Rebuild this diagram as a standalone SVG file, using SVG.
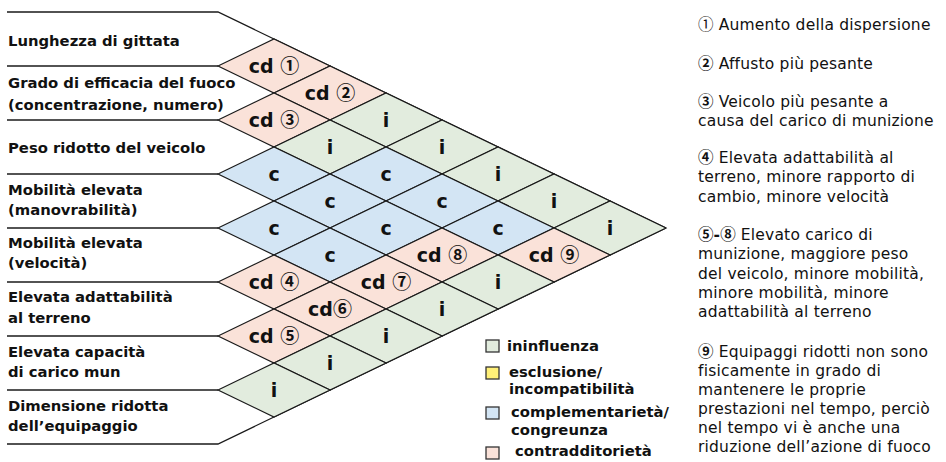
<svg xmlns="http://www.w3.org/2000/svg" xmlns:xlink="http://www.w3.org/1999/xlink" width="946" height="462" viewBox="0 0 946 462">
<style>
.lbl{font-family:"DejaVu Sans","Noto Sans CJK SC",sans-serif;font-weight:bold;font-size:14.8px;fill:#111}
.ct{font-family:"DejaVu Sans","Noto Sans CJK SC",sans-serif;font-weight:bold;font-size:19px;fill:#111;text-anchor:middle}
.note{font-family:"DejaVu Sans","Noto Sans CJK SC",sans-serif;font-size:15.5px;letter-spacing:0.2px;fill:#111}
.lg{font-family:"DejaVu Sans","Noto Sans CJK SC",sans-serif;font-weight:bold;font-size:14.8px;fill:#111}
.n{font-family:"Noto Sans CJK SC",sans-serif;letter-spacing:0}
.b{font-weight:bold}
.pk{fill:#fae2d9}
.gr{fill:#e2ecde}
.bl{fill:#d3e5f4}
.ye{fill:#fff078}
.ln{fill:none;stroke:#1a1a1a;stroke-width:1.3}
.sq{stroke:#333;stroke-width:1.3}
</style>
<defs>
<path id="d" d="M-56 0L0 -27L56 0L0 27Z" stroke="#1a1a1a" stroke-width="1.2" stroke-linejoin="miter"/>
</defs>
<g id="connectors">
<polyline class="ln" points="7,12 218,12 666,228"/>
<polyline class="ln" points="7,444 218,444 666,228"/>
<line class="ln" x1="7" y1="66" x2="218" y2="66"/>
<line class="ln" x1="7" y1="120" x2="218" y2="120"/>
<line class="ln" x1="7" y1="174" x2="218" y2="174"/>
<line class="ln" x1="7" y1="228" x2="218" y2="228"/>
<line class="ln" x1="7" y1="282" x2="218" y2="282"/>
<line class="ln" x1="7" y1="336" x2="218" y2="336"/>
<line class="ln" x1="7" y1="390" x2="218" y2="390"/>
</g>
<g id="labels">
<g id="l1"><text class="lbl" x="8" y="46">Lunghezza di gittata</text></g>
<g id="l2"><text class="lbl" x="8" y="88">Grado di efficacia del fuoco</text><text class="lbl" x="8" y="110">(concentrazione, numero)</text></g>
<g id="l3"><text class="lbl" x="8" y="153">Peso ridotto del veicolo</text></g>
<g id="l4"><text class="lbl" x="8" y="195">Mobilità elevata</text><text class="lbl" x="8" y="215">(manovrabilità)</text></g>
<g id="l5"><text class="lbl" x="8" y="248">Mobilità elevata</text><text class="lbl" x="8" y="268">(velocità)</text></g>
<g id="l6"><text class="lbl" x="8" y="302">Elevata adattabilità</text><text class="lbl" x="8" y="323">al terreno</text></g>
<g id="l7"><text class="lbl" x="8" y="357">Elevata capacità</text><text class="lbl" x="8" y="377">di carico mun</text></g>
<g id="l8"><text class="lbl" x="8" y="411">Dimensione ridotta</text><text class="lbl" x="8" y="431">dell’equipaggio</text></g>
</g>
<g id="cells">
<g id="c12" transform="translate(274,66)"><use xlink:href="#d" class="pk"/><text class="ct" y="7">cd <tspan class="n">①</tspan></text></g>
<g id="c13" transform="translate(330,93)"><use xlink:href="#d" class="pk"/><text class="ct" y="7">cd <tspan class="n">②</tspan></text></g>
<g id="c23" transform="translate(274,120)"><use xlink:href="#d" class="pk"/><text class="ct" y="7">cd <tspan class="n">③</tspan></text></g>
<g id="c14" transform="translate(386,120)"><use xlink:href="#d" class="gr"/><text class="ct" y="7">i</text></g>
<g id="c24" transform="translate(330,147)"><use xlink:href="#d" class="gr"/><text class="ct" y="7">i</text></g>
<g id="c15" transform="translate(442,147)"><use xlink:href="#d" class="gr"/><text class="ct" y="7">i</text></g>
<g id="c34" transform="translate(274,174)"><use xlink:href="#d" class="bl"/><text class="ct" y="7">c</text></g>
<g id="c25" transform="translate(386,174)"><use xlink:href="#d" class="bl"/><text class="ct" y="7">c</text></g>
<g id="c16" transform="translate(498,174)"><use xlink:href="#d" class="gr"/><text class="ct" y="7">i</text></g>
<g id="c35" transform="translate(330,201)"><use xlink:href="#d" class="bl"/><text class="ct" y="7">c</text></g>
<g id="c26" transform="translate(442,201)"><use xlink:href="#d" class="bl"/><text class="ct" y="7">c</text></g>
<g id="c17" transform="translate(554,201)"><use xlink:href="#d" class="gr"/><text class="ct" y="7">i</text></g>
<g id="c45" transform="translate(274,228)"><use xlink:href="#d" class="bl"/><text class="ct" y="7">c</text></g>
<g id="c36" transform="translate(386,228)"><use xlink:href="#d" class="bl"/><text class="ct" y="7">c</text></g>
<g id="c27" transform="translate(498,228)"><use xlink:href="#d" class="bl"/><text class="ct" y="7">c</text></g>
<g id="c18" transform="translate(610,228)"><use xlink:href="#d" class="gr"/><text class="ct" y="7">i</text></g>
<g id="c46" transform="translate(330,255)"><use xlink:href="#d" class="bl"/><text class="ct" y="7">c</text></g>
<g id="c37" transform="translate(442,255)"><use xlink:href="#d" class="pk"/><text class="ct" y="7">cd <tspan class="n">⑧</tspan></text></g>
<g id="c28" transform="translate(554,255)"><use xlink:href="#d" class="pk"/><text class="ct" y="7">cd <tspan class="n">⑨</tspan></text></g>
<g id="c56" transform="translate(274,282)"><use xlink:href="#d" class="pk"/><text class="ct" y="7">cd <tspan class="n">④</tspan></text></g>
<g id="c47" transform="translate(386,282)"><use xlink:href="#d" class="pk"/><text class="ct" y="7">cd <tspan class="n">⑦</tspan></text></g>
<g id="c38" transform="translate(498,282)"><use xlink:href="#d" class="gr"/><text class="ct" y="7">i</text></g>
<g id="c57" transform="translate(330,309)"><use xlink:href="#d" class="pk"/><text class="ct" y="7">cd<tspan class="n">⑥</tspan></text></g>
<g id="c48" transform="translate(442,309)"><use xlink:href="#d" class="gr"/><text class="ct" y="7">i</text></g>
<g id="c67" transform="translate(274,336)"><use xlink:href="#d" class="pk"/><text class="ct" y="7">cd <tspan class="n">⑤</tspan></text></g>
<g id="c58" transform="translate(386,336)"><use xlink:href="#d" class="gr"/><text class="ct" y="7">i</text></g>
<g id="c68" transform="translate(330,363)"><use xlink:href="#d" class="gr"/><text class="ct" y="7">i</text></g>
<g id="c78" transform="translate(274,390)"><use xlink:href="#d" class="gr"/><text class="ct" y="7">i</text></g>
</g>
<g id="legend">
<g id="lg1"><rect class="sq gr" x="486" y="340" width="13" height="12"/><text class="lg" x="507" y="351">ininfluenza</text></g>
<g id="lg2"><rect class="sq ye" x="486" y="367" width="13" height="12"/><text class="lg" x="509" y="377">esclusione/</text><text class="lg" x="509" y="394">incompatibilità</text></g>
<g id="lg3"><rect class="sq bl" x="486" y="407" width="13" height="12"/><text class="lg" x="511" y="417">complementarietà/</text><text class="lg" x="511" y="435">congreunza</text></g>
<g id="lg4"><rect class="sq pk" x="486" y="447" width="13" height="12"/><text class="lg" x="515" y="456">contradditorietà</text></g>
</g>
<g id="notes">
<text class="note" x="698" y="30"><tspan class="n">①</tspan> Aumento della dispersione</text>
<text class="note" x="698" y="69"><tspan class="n b">②</tspan> Affusto più pesante</text>
<text class="note" x="698" y="107"><tspan class="n b">③</tspan> Veicolo più pesante a</text>
<text class="note" x="698" y="126">causa del carico di munizione</text>
<text class="note" x="698" y="163"><tspan class="n b">④</tspan> Elevata adattabilità al</text>
<text class="note" x="698" y="182">terreno, minore rapporto di</text>
<text class="note" x="698" y="202">cambio, minore velocità</text>
<text class="note" x="698" y="240"><tspan class="n b">⑤</tspan><tspan class="b">-</tspan><tspan class="n b">⑧</tspan> Elevato carico di</text>
<text class="note" x="698" y="259">munizione, maggiore peso</text>
<text class="note" x="698" y="279">del veicolo, minore mobilità,</text>
<text class="note" x="698" y="298">minore mobilità, minore</text>
<text class="note" x="698" y="317">adattabilità al terreno</text>
<text class="note" x="698" y="357"><tspan class="n b">⑨</tspan> Equipaggi ridotti non sono</text>
<text class="note" x="698" y="376">fisicamente in grado di</text>
<text class="note" x="698" y="395">mantenere le proprie</text>
<text class="note" x="698" y="414">prestazioni nel tempo, perciò</text>
<text class="note" x="698" y="433">nel tempo vi è anche una</text>
<text class="note" x="698" y="452">riduzione dell’azione di fuoco</text>
</g>
</svg>
